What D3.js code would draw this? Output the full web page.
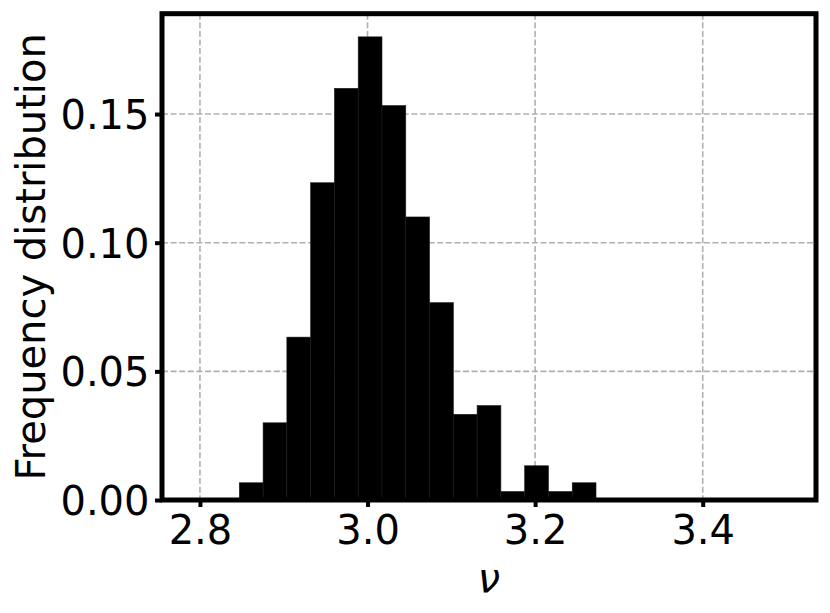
<!DOCTYPE html>
<html>
<head>
<meta charset="utf-8">
<script src="https://cdn.jsdelivr.net/npm/d3@7"></script>
<style>
  body { margin: 0; background: #fff; }
  text { font-family: "DejaVu Sans", sans-serif; fill: #000; }
</style>
</head>
<body>
<div id="chart"></div>
<script>
// histogram: left edge of first bin, bin width, and frequency of each bin
var binStart = 2.7902;
var binWidth = 0.02838;
var freq = [0, 0, 0.0067, 0.030, 0.0633, 0.1233, 0.160, 0.180, 0.1533, 0.110,
            0.0767, 0.0333, 0.0367, 0.0033, 0.0133, 0.0033, 0.0067,
            0, 0, 0, 0, 0, 0, 0, 0];
var xTicks = [2.8, 3.0, 3.2, 3.4];
var yTicks = [0.00, 0.05, 0.10, 0.15];
var xDomain = [2.7547, 3.5352];
var yDomain = [0, 0.189];

var width = 830,
    height = 613;
var plotLeft = 162, plotRight = 816, plotTop = 13.7, plotBottom = 500;

var svg = d3.select("#chart").append("svg")
    .attr("width", width)
    .attr("height", height);

svg.append("rect").attr("width", width).attr("height", height).attr("fill", "#fff");

var x = d3.scaleLinear().domain(xDomain).range([plotLeft, plotRight]);
var y = d3.scaleLinear().domain(yDomain).range([plotBottom, plotTop]);

// grid
var grid = svg.append("g");
grid.selectAll(".gx").data(xTicks).enter().append("line")
    .attr("x1", d => x(d)).attr("x2", d => x(d))
    .attr("y1", plotTop).attr("y2", plotBottom)
    .attr("stroke", "#b0b0b0").attr("stroke-width", 1.6)
    .attr("stroke-dasharray", "6,2.6");
grid.selectAll(".gy").data(yTicks).enter().append("line")
    .attr("x1", plotLeft).attr("x2", plotRight)
    .attr("y1", d => y(d)).attr("y2", d => y(d))
    .attr("stroke", "#b0b0b0").attr("stroke-width", 1.6)
    .attr("stroke-dasharray", "6,2.6");

// bars
svg.append("g").selectAll("rect")
    .data(freq.map((f, i) => ({x0: binStart + i * binWidth, x1: binStart + (i + 1) * binWidth, f: f})))
    .enter().append("rect")
    .attr("x", d => x(d.x0))
    .attr("width", d => x(d.x1) - x(d.x0))
    .attr("y", d => y(d.f))
    .attr("height", d => y(0) - y(d.f))
    .attr("fill", "#000")
    .attr("stroke", "#1c1c1c")
    .attr("stroke-width", 0.6);

// axes
var xAxis = d3.axisBottom(x).tickValues(xTicks).tickFormat(d3.format(".1f"))
    .tickSize(7).tickPadding(8);
var yAxis = d3.axisLeft(y).tickValues(yTicks).tickFormat(d3.format(".2f"))
    .tickSize(7).tickPadding(6);

var gx = svg.append("g").attr("transform", "translate(0," + plotBottom + ")").call(xAxis);
var gy = svg.append("g").attr("transform", "translate(" + plotLeft + ",0)").call(yAxis);

[gx, gy].forEach(function(g) {
    g.select(".domain").remove();
    g.selectAll(".tick line").attr("stroke", "#000").attr("stroke-width", 4);
    g.selectAll(".tick text").style("font-size", "40px").attr("fill", "#000");
});
gx.selectAll(".tick text").attr("dy", null).attr("y", 44);
gy.selectAll(".tick text").attr("dy", "0.36em").attr("x", -12.5);

// frame
svg.append("rect")
    .attr("x", plotLeft).attr("y", plotTop)
    .attr("width", plotRight - plotLeft).attr("height", plotBottom - plotTop)
    .attr("fill", "none").attr("stroke", "#000").attr("stroke-width", 5);

// labels
svg.append("text")
    .attr("x", (plotLeft + plotRight) / 2).attr("y", 592)
    .attr("text-anchor", "middle")
    .style("font-size", "40px").style("font-style", "italic")
    .text("ν");

svg.append("text")
    .attr("transform", "translate(45," + (plotTop + plotBottom) / 2 + ") rotate(-90)")
    .attr("text-anchor", "middle")
    .style("font-size", "40px")
    .text("Frequency distribution");
</script>
</body>
</html>
